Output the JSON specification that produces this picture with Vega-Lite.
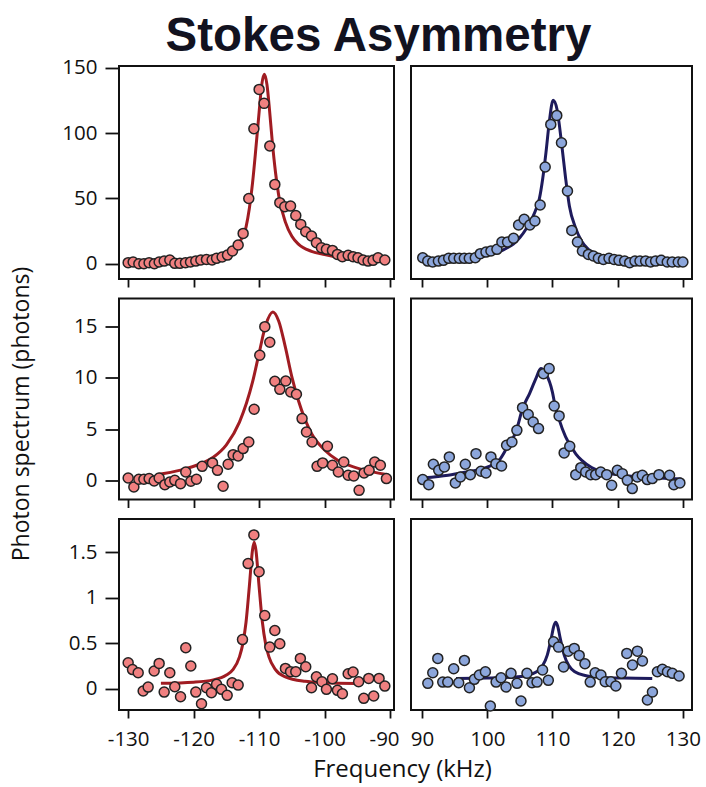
{
"$schema": "https://vega.github.io/schema/vega-lite/v6.json",
"background": "white",
"padding": {"left": 9, "top": 13, "right": 5, "bottom": 0},
"title": {"text": "Stokes Asymmetry", "font": "Liberation Sans", "fontSize": 47.5, "fontWeight": "bold", "color": "#12121f", "anchor": "middle", "offset": -4, "dx": 23},
"config": {
  "view": {"stroke": "#111", "strokeWidth": 2},
  "axis": {"domain": false, "grid": false, "labelFont": "Open Sans", "labelFontSize": 20.5, "labelColor": "#111", "tickColor": "#111", "tickWidth": 1.8, "titleFont": "Open Sans", "titleFontSize": 23, "titleFontWeight": "normal", "titleColor": "#111"}
},
"datasets": {
  "p1": [{"f":-130.0,"y":0.8},{"f":-129.24,"y":1.3},{"f":-128.37,"y":0},{"f":-127.6,"y":0},{"f":-126.8,"y":0.8},{"f":-126.0,"y":0},{"f":-125.27,"y":1.3},{"f":-124.5,"y":2.0},{"f":-123.64,"y":2.8},{"f":-122.88,"y":0.3},{"f":-122.1,"y":0.3},{"f":-121.25,"y":0.8},{"f":-120.48,"y":1.3},{"f":-119.67,"y":2.0},{"f":-118.9,"y":2.8},{"f":-118.04,"y":3.3},{"f":-117.18,"y":2.8},{"f":-116.5,"y":4.1},{"f":-115.65,"y":5.1},{"f":-114.83,"y":6.6},{"f":-114.07,"y":9.7},{"f":-113.2,"y":14.3},{"f":-112.44,"y":23.2},{"f":-111.58,"y":49.9},{"f":-110.8,"y":103.3},{"f":-110.0,"y":133.4},{"f":-109.24,"y":122.7},{"f":-108.37,"y":90.1},{"f":-107.6,"y":60.7},{"f":-106.84,"y":46.7},{"f":-106.08,"y":43.6},{"f":-105.2,"y":44.1},{"f":-104.4,"y":36.9},{"f":-103.64,"y":30.1},{"f":-102.88,"y":24.5},{"f":-102.0,"y":21.2},{"f":-101.25,"y":16.1},{"f":-100.48,"y":12.2},{"f":-99.72,"y":11.0},{"f":-98.8,"y":10.2},{"f":-98.04,"y":7.1},{"f":-97.28,"y":5.4},{"f":-96.4,"y":6.4},{"f":-95.65,"y":5.4},{"f":-94.9,"y":4.6},{"f":-94.12,"y":2.8},{"f":-93.36,"y":2.0},{"f":-92.6,"y":2.6},{"f":-91.83,"y":4.6},{"f":-90.8,"y":2.8}],
  "p1fit": [{"f":-125,"y":2},{"f":-122,"y":2.8},{"f":-119,"y":4.3},{"f":-117,"y":6},{"f":-115,"y":8.8},{"f":-114,"y":11.5},{"f":-113,"y":16.5},{"f":-112,"y":28},{"f":-111.5,"y":42},{"f":-111,"y":62},{"f":-110.5,"y":88},{"f":-110,"y":116},{"f":-109.6,"y":137},{"f":-109.2,"y":145},{"f":-108.8,"y":137},{"f":-108.4,"y":117},{"f":-108,"y":94},{"f":-107.5,"y":70},{"f":-107,"y":52},{"f":-106,"y":32},{"f":-105,"y":21},{"f":-104,"y":15},{"f":-102,"y":9.5},{"f":-100,"y":7},{"f":-98,"y":5},{"f":-95,"y":3.2}],
  "p2": [{"f":90.1,"y":4.6},{"f":90.87,"y":2.0},{"f":91.63,"y":1.3},{"f":92.5,"y":2.0},{"f":93.27,"y":2.6},{"f":94.08,"y":4.1},{"f":94.85,"y":4.1},{"f":95.71,"y":4.1},{"f":96.48,"y":4.1},{"f":97.24,"y":4.1},{"f":98.16,"y":4.6},{"f":98.93,"y":7.7},{"f":99.8,"y":8.9},{"f":100.56,"y":9.7},{"f":101.48,"y":11.0},{"f":102.24,"y":16.6},{"f":103.11,"y":16.6},{"f":104.03,"y":19.4},{"f":104.8,"y":29.6},{"f":105.66,"y":34.0},{"f":106.53,"y":29.6},{"f":107.3,"y":32.7},{"f":108.11,"y":44.9},{"f":108.88,"y":74.0},{"f":109.74,"y":106.6},{"f":110.66,"y":113.5},{"f":111.38,"y":92.6},{"f":112.3,"y":55.6},{"f":112.96,"y":25.5},{"f":113.83,"y":16.6},{"f":114.59,"y":9.7},{"f":115.51,"y":7.1},{"f":116.28,"y":5.9},{"f":117.04,"y":4.1},{"f":117.81,"y":3.3},{"f":118.67,"y":4.1},{"f":119.44,"y":3.3},{"f":120.2,"y":2.6},{"f":121.07,"y":2.0},{"f":121.84,"y":0.8},{"f":122.65,"y":2.0},{"f":123.42,"y":2.0},{"f":124.29,"y":2.0},{"f":125.05,"y":1.3},{"f":125.82,"y":2.0},{"f":126.68,"y":2.6},{"f":127.6,"y":1.3},{"f":128.37,"y":1.3},{"f":129.29,"y":1.3},{"f":130.0,"y":1.3}],
  "p2fit": [{"f":95,"y":2.5},{"f":98,"y":4.5},{"f":100,"y":6.5},{"f":102,"y":9.5},{"f":103,"y":12},{"f":104,"y":15},{"f":105,"y":20},{"f":106,"y":27},{"f":107,"y":36},{"f":107.5,"y":42},{"f":108,"y":50},{"f":108.5,"y":65},{"f":109,"y":85},{"f":109.5,"y":108},{"f":110.1,"y":125},{"f":110.7,"y":118},{"f":111.4,"y":92},{"f":112,"y":66},{"f":112.6,"y":44},{"f":113.5,"y":28},{"f":114.5,"y":17},{"f":115.5,"y":11},{"f":117,"y":7},{"f":119,"y":4.5},{"f":122,"y":3},{"f":125,"y":2.2}],
  "p3": [{"f":-130.0,"y":0.29},{"f":-129.13,"y":-0.58},{"f":-128.37,"y":0.16},{"f":-127.6,"y":0.16},{"f":-126.8,"y":0.23},{"f":-126.03,"y":0.0},{"f":-125.27,"y":0.29},{"f":-124.4,"y":-0.36},{"f":-123.64,"y":-0.1},{"f":-122.88,"y":0.06},{"f":-122.0,"y":-0.26},{"f":-121.2,"y":0.87},{"f":-120.43,"y":-0.03},{"f":-119.57,"y":0.16},{"f":-118.7,"y":1.42},{"f":-117.12,"y":1.75},{"f":-116.36,"y":1.03},{"f":-115.5,"y":-0.52},{"f":-114.73,"y":1.62},{"f":-113.97,"y":2.55},{"f":-113.2,"y":2.43},{"f":-112.44,"y":3.14},{"f":-111.58,"y":3.78},{"f":-110.76,"y":6.95},{"f":-109.9,"y":12.19},{"f":-109.13,"y":14.97},{"f":-108.37,"y":13.45},{"f":-107.6,"y":9.67},{"f":-106.84,"y":8.89},{"f":-105.93,"y":9.7},{"f":-105.17,"y":8.63},{"f":-104.3,"y":8.41},{"f":-103.44,"y":6.05},{"f":-102.77,"y":4.75},{"f":-101.91,"y":3.78},{"f":-101.15,"y":1.42},{"f":-100.3,"y":1.75},{"f":-99.57,"y":3.36},{"f":-98.8,"y":1.52},{"f":-97.9,"y":0.87},{"f":-97.07,"y":1.84},{"f":-96.4,"y":0.55},{"f":-95.55,"y":0.49},{"f":-94.73,"y":-0.91},{"f":-93.97,"y":0.78},{"f":-93.2,"y":1.03},{"f":-92.34,"y":1.84},{"f":-91.48,"y":1.52},{"f":-90.56,"y":0.23}],
  "p3fit": [{"f":-125.7,"y":0.6},{"f":-122,"y":1.05},{"f":-119,"y":1.65},{"f":-117,"y":2.3},{"f":-115,"y":3.5},{"f":-113,"y":5.7},{"f":-111,"y":9.6},{"f":-110,"y":12.4},{"f":-109,"y":15.1},{"f":-107.9,"y":16.4},{"f":-107,"y":15.5},{"f":-106,"y":13},{"f":-105,"y":10.1},{"f":-104,"y":7.8},{"f":-102,"y":4.6},{"f":-100,"y":3.0},{"f":-98,"y":2.0},{"f":-95,"y":1.25},{"f":-90.3,"y":0.6}],
  "p4": [{"f":90.1,"y":0.13},{"f":91.02,"y":-0.36},{"f":91.73,"y":1.62},{"f":92.55,"y":1.03},{"f":93.42,"y":1.36},{"f":94.18,"y":2.33},{"f":95.1,"y":-0.19},{"f":95.87,"y":0.39},{"f":96.63,"y":1.62},{"f":97.4,"y":0.61},{"f":98.27,"y":2.65},{"f":99.03,"y":0.94},{"f":99.8,"y":0.78},{"f":100.56,"y":2.33},{"f":101.33,"y":1.68},{"f":102.19,"y":1.45},{"f":102.96,"y":3.46},{"f":103.78,"y":3.78},{"f":104.54,"y":4.91},{"f":105.41,"y":7.11},{"f":106.28,"y":6.44},{"f":107.04,"y":5.72},{"f":107.86,"y":5.08},{"f":108.62,"y":10.41},{"f":109.49,"y":10.9},{"f":110.26,"y":7.27},{"f":111.02,"y":6.31},{"f":111.79,"y":2.72},{"f":112.65,"y":3.36},{"f":113.57,"y":0.61},{"f":114.34,"y":1.29},{"f":115.1,"y":0.87},{"f":115.87,"y":0.61},{"f":116.63,"y":0.61},{"f":117.4,"y":0.87},{"f":118.32,"y":0.61},{"f":119.08,"y":-0.42},{"f":119.95,"y":1.03},{"f":120.71,"y":0.71},{"f":121.48,"y":0.06},{"f":122.24,"y":-0.74},{"f":123.01,"y":0.39},{"f":123.78,"y":0.55},{"f":124.54,"y":0.13},{"f":125.31,"y":0.23},{"f":126.33,"y":0.61},{"f":127.96,"y":0.55},{"f":128.62,"y":-0.36},{"f":129.54,"y":-0.19}],
  "p4fit": [{"f":90.3,"y":0.3},{"f":94,"y":0.55},{"f":97,"y":0.9},{"f":99.3,"y":1.2},{"f":101.8,"y":2.0},{"f":103,"y":3.2},{"f":104,"y":4.2},{"f":104.5,"y":5.0},{"f":105.4,"y":7.0},{"f":106.5,"y":8.5},{"f":107.5,"y":10.0},{"f":108.2,"y":10.9},{"f":109,"y":10.4},{"f":110,"y":8.6},{"f":110.4,"y":7.3},{"f":111,"y":6.0},{"f":112,"y":4.3},{"f":113,"y":3.2},{"f":113.6,"y":2.6},{"f":114.5,"y":2.0},{"f":116,"y":1.3},{"f":118,"y":0.8},{"f":120,"y":0.6},{"f":124,"y":0.35},{"f":129.8,"y":0.2}],
  "p5": [{"f":-130.0,"y":0.285},{"f":-129.34,"y":0.21},{"f":-128.47,"y":0.175},{"f":-127.71,"y":-0.025},{"f":-126.95,"y":0.018},{"f":-126.03,"y":0.194},{"f":-125.27,"y":0.278},{"f":-124.5,"y":-0.037},{"f":-123.64,"y":0.176},{"f":-122.88,"y":0.022},{"f":-122.0,"y":-0.088},{"f":-121.2,"y":0.45},{"f":-120.43,"y":0.249},{"f":-119.67,"y":-0.037},{"f":-118.8,"y":-0.165},{"f":-118.04,"y":0.011},{"f":-117.28,"y":-0.044},{"f":-116.5,"y":0.048},{"f":-115.75,"y":-0.007},{"f":-114.88,"y":-0.073},{"f":-114.12,"y":0.066},{"f":-113.2,"y":0.04},{"f":-112.54,"y":0.54},{"f":-111.68,"y":1.375},{"f":-110.8,"y":1.69},{"f":-110.0,"y":1.285},{"f":-109.14,"y":0.805},{"f":-108.37,"y":0.457},{"f":-107.6,"y":0.64},{"f":-106.84,"y":0.494},{"f":-105.98,"y":0.223},{"f":-105.2,"y":0.187},{"f":-104.4,"y":0.187},{"f":-103.7,"y":0.333},{"f":-102.88,"y":0.241},{"f":-102.0,"y":0.011},{"f":-101.25,"y":0.132},{"f":-100.4,"y":0.077},{"f":-99.72,"y":-0.007},{"f":-98.8,"y":0.11},{"f":-98.04,"y":-0.018},{"f":-97.28,"y":-0.055},{"f":-96.4,"y":0.165},{"f":-95.65,"y":0.183},{"f":-94.8,"y":0.077},{"f":-94.02,"y":-0.106},{"f":-93.26,"y":0.113},{"f":-92.5,"y":-0.08},{"f":-91.68,"y":0.113},{"f":-90.8,"y":0.029}],
  "p5fit": [{"f":-125,"y":0.06},{"f":-120,"y":0.072},{"f":-117,"y":0.097},{"f":-115,"y":0.15},{"f":-114,"y":0.21},{"f":-113,"y":0.35},{"f":-112.5,"y":0.49},{"f":-112,"y":0.73},{"f":-111.5,"y":1.12},{"f":-111,"y":1.53},{"f":-110.75,"y":1.61},{"f":-110.5,"y":1.53},{"f":-110,"y":1.12},{"f":-109.5,"y":0.73},{"f":-109,"y":0.49},{"f":-108.5,"y":0.35},{"f":-107.5,"y":0.21},{"f":-106,"y":0.13},{"f":-103,"y":0.081},{"f":-100,"y":0.066},{"f":-95.3,"y":0.058}],
  "p6": [{"f":90.88,"y":0.059},{"f":91.64,"y":0.175},{"f":92.41,"y":0.333},{"f":93.17,"y":0.073},{"f":93.94,"y":0.073},{"f":94.85,"y":0.219},{"f":95.62,"y":0.066},{"f":96.49,"y":0.311},{"f":97.26,"y":0.011},{"f":98.02,"y":0.103},{"f":98.79,"y":0.15},{"f":99.71,"y":0.186},{"f":100.47,"y":-0.19},{"f":101.35,"y":0.073},{"f":102.11,"y":0.121},{"f":102.88,"y":0.019},{"f":103.64,"y":0.169},{"f":104.56,"y":0.059},{"f":105.17,"y":-0.135},{"f":106.09,"y":0.169},{"f":106.86,"y":0.066},{"f":107.63,"y":0.073},{"f":108.48,"y":0.205},{"f":109.36,"y":0.092},{"f":110.17,"y":0.515},{"f":110.93,"y":0.457},{"f":111.7,"y":0.238},{"f":112.42,"y":0.413},{"f":113.34,"y":0.443},{"f":114.1,"y":0.366},{"f":114.98,"y":0.274},{"f":115.79,"y":0.073},{"f":116.55,"y":0.175},{"f":117.43,"y":0.15},{"f":118.09,"y":0.077},{"f":118.96,"y":0.077},{"f":119.72,"y":0.03},{"f":120.58,"y":0.169},{"f":121.4,"y":0.388},{"f":122.27,"y":0.26},{"f":123.03,"y":0.413},{"f":123.8,"y":0.304},{"f":124.56,"y":-0.124},{"f":125.33,"y":-0.036},{"f":126.09,"y":0.186},{"f":126.86,"y":0.213},{"f":127.63,"y":0.186},{"f":128.39,"y":0.169},{"f":129.42,"y":0.139}],
  "p6fit": [{"f":95.2,"y":0.113},{"f":100,"y":0.117},{"f":104,"y":0.127},{"f":106,"y":0.145},{"f":107.5,"y":0.183},{"f":108.5,"y":0.254},{"f":109.2,"y":0.369},{"f":109.8,"y":0.55},{"f":110.2,"y":0.687},{"f":110.5,"y":0.73},{"f":110.8,"y":0.687},{"f":111.2,"y":0.55},{"f":111.8,"y":0.369},{"f":112.5,"y":0.254},{"f":113.5,"y":0.183},{"f":115,"y":0.145},{"f":117,"y":0.127},{"f":121,"y":0.117},{"f":125.3,"y":0.113}]
},
"columns": 2,
"align": "each",
"bounds": "flush",
"spacing": {"row": 19.5, "column": 17},
"concat": [
  {"width": 275, "height": 213, "layer": [
    {"data": {"name": "p1fit"}, "mark": {"type": "line", "color": "#a01c22", "strokeWidth": 3, "interpolate": "monotone"},
     "encoding": {
       "x": {"field": "f", "type": "quantitative", "scale": {"domain": [-131.4, -89.4], "nice": false, "zero": false}, "axis": {"values": [-130,-120,-110,-100,-90], "labels": false, "title": null, "tickSize": 8}},
       "y": {"field": "y", "type": "quantitative", "scale": {"domain": [-11.7, 151.3], "nice": false, "zero": false}, "axis": {"values": [0,25,50,75,100,125,150], "labelExpr": "datum.value % 50 === 0 ? '' + datum.value : ''", "tickSize": {"condition": {"test": "datum.value % 50 === 0", "value": 14}, "value": 8}, "labelPadding": 8, "title": null}}}},
    {"data": {"name": "p1"}, "mark": {"type": "circle", "color": "#f08080", "stroke": "#222", "strokeWidth": 1.5, "size": 100, "opacity": 1},
     "encoding": {"x": {"field": "f", "type": "quantitative"}, "y": {"field": "y", "type": "quantitative"}}}
  ]},
  {"width": 281, "height": 213, "layer": [
    {"data": {"name": "p2fit"}, "mark": {"type": "line", "color": "#1e1b5c", "strokeWidth": 3, "interpolate": "monotone"},
     "encoding": {
       "x": {"field": "f", "type": "quantitative", "scale": {"domain": [88.3, 131.4], "nice": false, "zero": false}, "axis": {"values": [90,100,110,120,130], "labels": false, "title": null, "tickSize": 8}},
       "y": {"field": "y", "type": "quantitative", "scale": {"domain": [-11.7, 151.3], "nice": false, "zero": false}, "axis": null}}},
    {"data": {"name": "p2"}, "mark": {"type": "circle", "color": "#8ca6db", "stroke": "#222", "strokeWidth": 1.5, "size": 100, "opacity": 1},
     "encoding": {"x": {"field": "f", "type": "quantitative"}, "y": {"field": "y", "type": "quantitative"}}}
  ]},
  {"width": 275, "height": 201, "layer": [
    {"data": {"name": "p3fit"}, "mark": {"type": "line", "color": "#a01c22", "strokeWidth": 3, "interpolate": "monotone"},
     "encoding": {
       "x": {"field": "f", "type": "quantitative", "scale": {"domain": [-131.4, -89.4], "nice": false, "zero": false}, "axis": {"values": [-130,-120,-110,-100,-90], "labels": false, "title": null, "tickSize": 8}},
       "y": {"field": "y", "type": "quantitative", "scale": {"domain": [-1.8, 17.7], "nice": false, "zero": false}, "axis": {"values": [0,2.5,5,7.5,10,12.5,15,17.5], "labelExpr": "datum.value % 5 === 0 ? '' + datum.value : ''", "tickSize": {"condition": {"test": "datum.value % 5 === 0", "value": 14}, "value": 8}, "labelPadding": 8, "title": "Photon spectrum (photons)", "titlePadding": 40, "titleY": 115}}}},
    {"data": {"name": "p3"}, "mark": {"type": "circle", "color": "#f08080", "stroke": "#222", "strokeWidth": 1.5, "size": 100, "opacity": 1},
     "encoding": {"x": {"field": "f", "type": "quantitative"}, "y": {"field": "y", "type": "quantitative"}}}
  ]},
  {"width": 281, "height": 201, "layer": [
    {"data": {"name": "p4fit"}, "mark": {"type": "line", "color": "#1e1b5c", "strokeWidth": 3, "interpolate": "monotone"},
     "encoding": {
       "x": {"field": "f", "type": "quantitative", "scale": {"domain": [88.3, 131.4], "nice": false, "zero": false}, "axis": {"values": [90,100,110,120,130], "labels": false, "title": null, "tickSize": 8}},
       "y": {"field": "y", "type": "quantitative", "scale": {"domain": [-1.8, 17.7], "nice": false, "zero": false}, "axis": null}}},
    {"data": {"name": "p4"}, "mark": {"type": "circle", "color": "#8ca6db", "stroke": "#222", "strokeWidth": 1.5, "size": 100, "opacity": 1},
     "encoding": {"x": {"field": "f", "type": "quantitative"}, "y": {"field": "y", "type": "quantitative"}}}
  ]},
  {"width": 275, "height": 191, "layer": [
    {"data": {"name": "p5fit"}, "mark": {"type": "line", "color": "#a01c22", "strokeWidth": 3, "interpolate": "monotone"},
     "encoding": {
       "x": {"field": "f", "type": "quantitative", "scale": {"domain": [-131.4, -89.4], "nice": false, "zero": false}, "axis": {"values": [-130,-120,-110,-100,-90], "labelExpr": "'' + datum.value", "labelOffset": {"condition": {"test": "datum.value === -90", "value": -6}, "value": 0}, "title": "Frequency (kHz)", "titleFontSize": 24, "titleX": 283, "titlePadding": 8, "labelPadding": 11, "tickSize": 8}},
       "y": {"field": "y", "type": "quantitative", "scale": {"domain": [-0.234, 1.865], "nice": false, "zero": false}, "axis": {"values": [0,0.5,1,1.5], "labelExpr": "'' + datum.value", "tickSize": 14, "labelPadding": 8, "title": null}}}},
    {"data": {"name": "p5"}, "mark": {"type": "circle", "color": "#f08080", "stroke": "#222", "strokeWidth": 1.5, "size": 100, "opacity": 1},
     "encoding": {"x": {"field": "f", "type": "quantitative"}, "y": {"field": "y", "type": "quantitative"}}}
  ]},
  {"width": 281, "height": 191, "layer": [
    {"data": {"name": "p6fit"}, "mark": {"type": "line", "color": "#1e1b5c", "strokeWidth": 3, "interpolate": "monotone"},
     "encoding": {
       "x": {"field": "f", "type": "quantitative", "scale": {"domain": [88.3, 131.4], "nice": false, "zero": false}, "axis": {"values": [90,100,110,120,130], "labelExpr": "'' + datum.value", "title": null, "labelPadding": 11, "tickSize": 8}},
       "y": {"field": "y", "type": "quantitative", "scale": {"domain": [-0.234, 1.865], "nice": false, "zero": false}, "axis": null}}},
    {"data": {"name": "p6"}, "mark": {"type": "circle", "color": "#8ca6db", "stroke": "#222", "strokeWidth": 1.5, "size": 100, "opacity": 1},
     "encoding": {"x": {"field": "f", "type": "quantitative"}, "y": {"field": "y", "type": "quantitative"}}}
  ]}
]
}
